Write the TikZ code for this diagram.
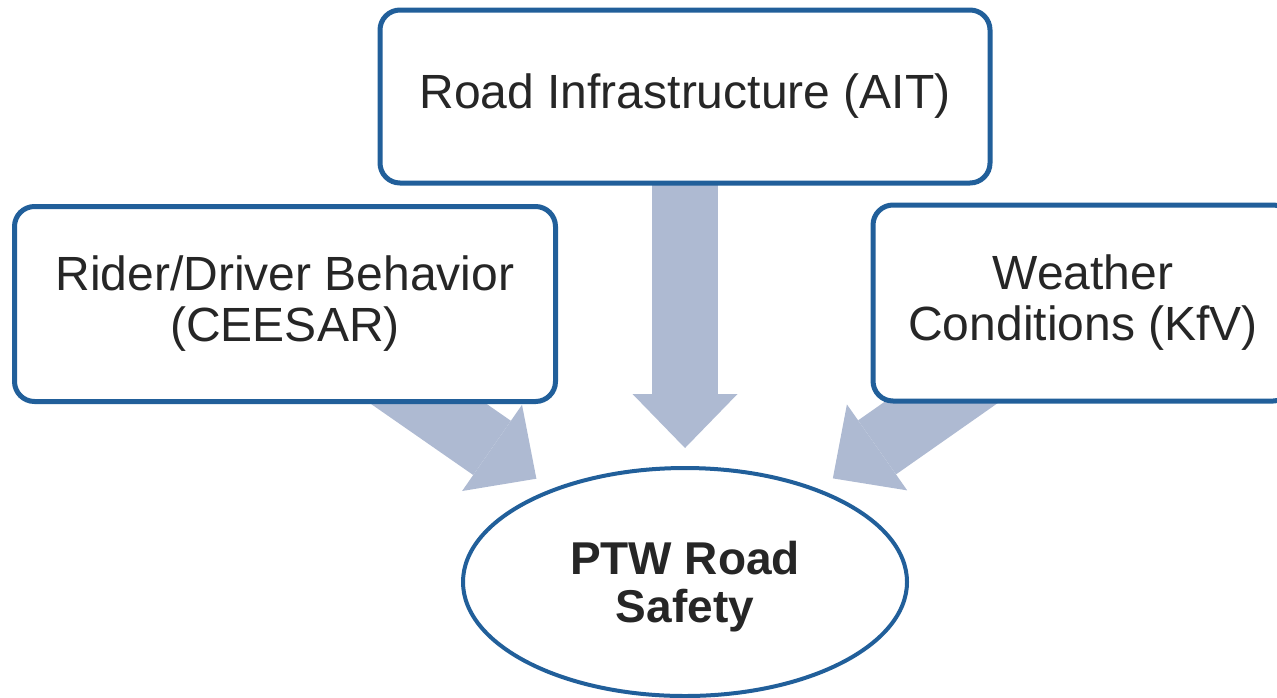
\documentclass[tikz,border=0pt]{standalone}
\usepackage{fontspec}
\setmainfont{Liberation Sans}
\usetikzlibrary{arrows.meta,shapes.geometric,backgrounds}

\definecolor{boxblue}{RGB}{33,95,154}
\definecolor{arrowfill}{RGB}{174,186,210}
\definecolor{textgray}{RGB}{38,38,38}

\tikzset{
  box/.style={draw=boxblue, line width=2.5pt, rounded corners=10pt, fill=white,
    text=textgray, align=center, inner sep=0pt,
    font=\fontsize{24pt}{25.5pt}\selectfont},
  hub/.style={ellipse, draw=boxblue, line width=2pt, fill=white,
    text=textgray, align=center, inner sep=0pt, text depth=0pt,
    font=\fontsize{23pt}{24pt}\selectfont\bfseries},
  bigarrow/.style={draw=arrowfill, line width=33pt, shorten >=9pt,
    -{Triangle[length=27pt,width=52.5pt,line width=0pt]}}
}

\begin{document}
\begin{tikzpicture}[x=0.5pt,y=-0.5pt]
\useasboundingbox (0,0) rectangle (1277,697);

% the three factors and the centre
\node[box, minimum width=305pt, minimum height=86.5pt] (infra) at (685,96.5) {Road Infrastructure (AIT)};
\node[box, minimum width=270.5pt, minimum height=97.5pt] (rider) at (285,304) {Rider/Driver Behavior\\(CEESAR)};
\node[box, minimum width=210pt, minimum height=98pt] (weather) at (1083,303) {Weather\\Conditions (KfV)};
\node[hub, minimum width=222pt, minimum height=114pt] (safety) at (685,582) {PTW Road\\Safety};

% block arrows go behind the boxes
\begin{pgfonlayer}{background}
\draw[bigarrow] (infra.center) -- (safety);
\draw[bigarrow] (rider.center) -- (safety);
\draw[bigarrow] (weather.center) -- (safety);
\end{pgfonlayer}

\end{tikzpicture}
\end{document}
